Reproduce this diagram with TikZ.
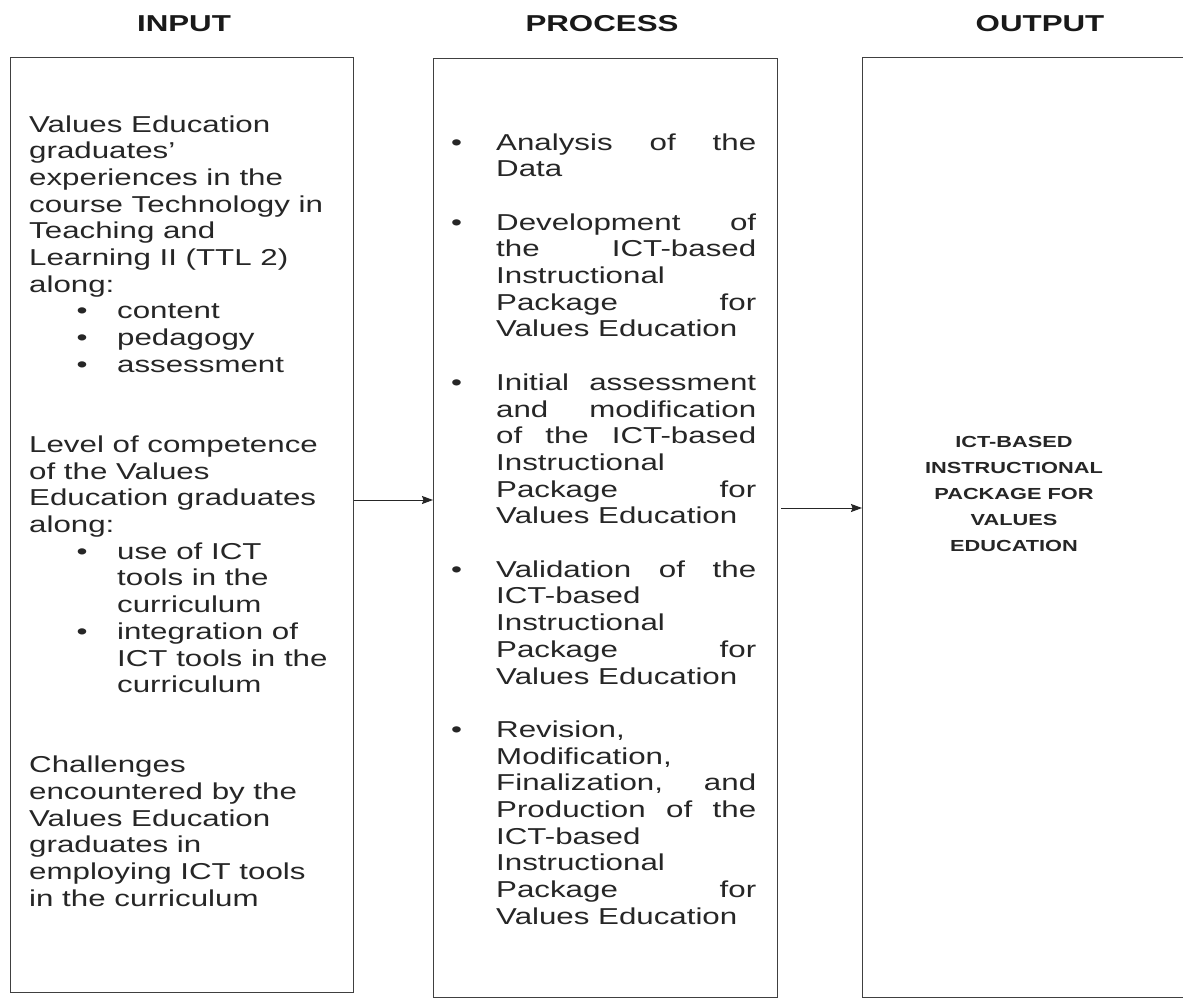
\documentclass[tikz,border=0pt]{standalone}
\usepackage{fontspec}
\setmainfont{Liberation Sans}[FakeStretch=1.36]
\usetikzlibrary{arrows.meta}
\newcommand{\bodyfont}{\fontsize{23}{26.7}\selectfont}
\newcommand{\ibul}[1]{\hspace*{47.5pt}\makebox[40.5pt][l]{•}#1}
\newcommand{\icont}[1]{\hspace*{88pt}#1}
\newcommand{\pbul}[2][s]{\makebox[45pt][l]{•}\makebox[260pt][#1]{#2}}
\newcommand{\pcont}[2][s]{\hspace*{45pt}\makebox[260pt][#1]{#2}}
\tikzset{
  box/.style={draw=black!75, line width=1.3pt, inner sep=0pt, anchor=north west},
  txt/.style={inner sep=0pt, text=black!85},
  head/.style={inner sep=0pt, text=black!90, font=\fontsize{23}{26.7}\selectfont\bfseries, anchor=base},
  arr/.style={draw=black!85, line width=1pt, -{Stealth[length=11pt,width=8pt,inset=1.5pt]}}
}
\begin{document}
\begin{tikzpicture}[x=1pt,y=-1pt]
\clip (0,0) rectangle (1183,999);
\fill[white] (0,0) rectangle (1183,999);
% headers
\node[head] (hin) at (184,31) {INPUT};
\node[head] (hproc) at (602,31) {PROCESS};
\node[head] (hout) at (1040,31) {OUTPUT};
% boxes
\node[box, minimum width=343pt, minimum height=935pt] (inbox) at (10,57) {};
\node[box, minimum width=344pt, minimum height=939pt] (procbox) at (433,58) {};
\node[box, minimum width=340pt, minimum height=940pt] (outbox) at (862,57) {};
% input text
\node[txt, anchor=base west] (intext) at (29,132) {\begin{minipage}[t]{320pt}\bodyfont
Values Education\\
graduates’\\
experiences in the\\
course Technology in\\
Teaching and\\
Learning II (TTL 2)\\
along:\\
\ibul{content}\\
\ibul{pedagogy}\\
\ibul{assessment}\\
\mbox{}\\
\mbox{}\\
Level of competence\\
of the Values\\
Education graduates\\
along:\\
\ibul{use of ICT}\\
\icont{tools in the}\\
\icont{curriculum}\\
\ibul{integration of}\\
\icont{ICT tools in the}\\
\icont{curriculum}\\
\mbox{}\\
\mbox{}\\
Challenges\\
encountered by the\\
Values Education\\
graduates in\\
employing ICT tools\\
in the curriculum
\end{minipage}};
% process text
\node[txt, anchor=base west] (proctext) at (451,150) {\begin{minipage}[t]{320pt}\bodyfont
\pbul{Analysis of the}\\
\pcont[l]{Data}\\
\mbox{}\\
\pbul{Development of}\\
\pcont{the ICT-based}\\
\pcont[l]{Instructional}\\
\pcont{Package for}\\
\pcont[l]{Values Education}\\
\mbox{}\\
\pbul{Initial assessment}\\
\pcont{and modification}\\
\pcont{of the ICT-based}\\
\pcont[l]{Instructional}\\
\pcont{Package for}\\
\pcont[l]{Values Education}\\
\mbox{}\\
\pbul{Validation of the}\\
\pcont[l]{ICT-based}\\
\pcont[l]{Instructional}\\
\pcont{Package for}\\
\pcont[l]{Values Education}\\
\mbox{}\\
\pbul[l]{Revision,}\\
\pcont[l]{Modification,}\\
\pcont{Finalization, and}\\
\pcont{Production of the}\\
\pcont[l]{ICT-based}\\
\pcont[l]{Instructional}\\
\pcont{Package for}\\
\pcont[l]{Values Education}
\end{minipage}};
% output text
\node[txt, anchor=base] (outtext) at (1014,447) {\begin{minipage}[t]{300pt}\centering\fontsize{16}{26}\selectfont\bfseries
ICT-BASED\\
INSTRUCTIONAL\\
PACKAGE FOR\\
VALUES\\
EDUCATION
\end{minipage}};
% arrows
\draw[arr] (inbox.east |- 0,500) -- (procbox.west |- 0,500);
\draw[arr, shorten <=3pt] (procbox.east |- 0,508) -- (outbox.west |- 0,508);
\end{tikzpicture}
\end{document}
